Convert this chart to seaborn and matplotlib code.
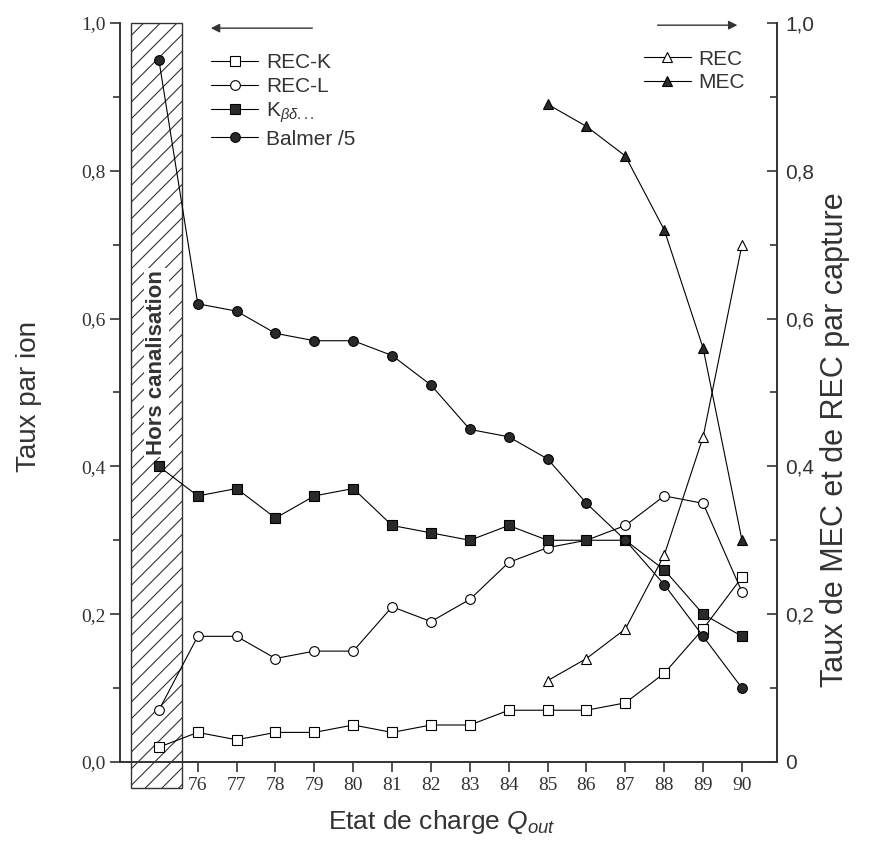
import numpy as np
import pandas as pd
import matplotlib
matplotlib.use("Agg")
import matplotlib.pyplot as plt
import matplotlib.patches as mpatches
from matplotlib.ticker import FixedLocator, MultipleLocator, FuncFormatter
import seaborn as sns

# --- data ---
charge = [75, 76, 77, 78, 79, 80, 81, 82, 83, 84, 85, 86, 87, 88, 89, 90]
rec_k = [0.02, 0.04, 0.03, 0.04, 0.04, 0.05, 0.04, 0.05, 0.05, 0.07, 0.07, 0.07, 0.08, 0.12, 0.18, 0.25]
rec_l = [0.07, 0.17, 0.17, 0.14, 0.15, 0.15, 0.21, 0.19, 0.22, 0.27, 0.29, 0.30, 0.32, 0.36, 0.35, 0.23]
k_bd = [0.40, 0.36, 0.37, 0.33, 0.36, 0.37, 0.32, 0.31, 0.30, 0.32, 0.30, 0.30, 0.30, 0.26, 0.20, 0.17]
balmer5 = [0.95, 0.62, 0.61, 0.58, 0.57, 0.57, 0.55, 0.51, 0.45, 0.44, 0.41, 0.35, 0.30, 0.24, 0.17, 0.10]

charge_cap = [85, 86, 87, 88, 89, 90]
rec = [0.11, 0.14, 0.18, 0.28, 0.44, 0.70]
mec = [0.89, 0.86, 0.82, 0.72, 0.56, 0.30]

x_ticks = list(range(76, 91))

sns.set_style("ticks")
plt.rcParams['font.family'] = ['Liberation Sans', 'DejaVu Sans']
plt.rcParams['mathtext.fontset'] = 'custom'
plt.rcParams['mathtext.rm'] = 'Liberation Sans'
plt.rcParams['mathtext.it'] = 'Liberation Sans:italic'
plt.rcParams['hatch.linewidth'] = 0.8

fig = plt.figure(figsize=(8.74, 8.6), dpi=100)
ax = fig.add_axes([0.1373, 0.1140, 0.7517, 0.8593])
ax2 = ax.twinx()

fill = '#2a2a2a'
grey = '#333333'
common = dict(color='black', linewidth=0.8, markersize=7, markeredgewidth=0.8,
              markeredgecolor='black', clip_on=False)

sns.lineplot(x=charge, y=rec_k, ax=ax, marker='s', markerfacecolor='white', label='REC-K', **common)
sns.lineplot(x=charge, y=rec_l, ax=ax, marker='o', markerfacecolor='white', label='REC-L', **common)
sns.lineplot(x=charge, y=k_bd, ax=ax, marker='s', markerfacecolor=fill, label=r'K$_{\beta\delta...}$', **common)
sns.lineplot(x=charge, y=balmer5, ax=ax, marker='o', markerfacecolor=fill, label='Balmer /5', **common)

sns.lineplot(x=charge_cap, y=rec, ax=ax2, marker='^', markerfacecolor='white', label='REC', **common)
sns.lineplot(x=charge_cap, y=mec, ax=ax2, marker='^', markerfacecolor=fill, label='MEC', **common)

# hatched "hors canalisation" region
box = mpatches.Rectangle((74.28, -0.035), 1.32, 1.035, facecolor='white', edgecolor=grey,
                         hatch='//', linewidth=1.0, clip_on=False, zorder=1)
ax.add_patch(box)
ax.text(74.94, 0.54, 'Hors canalisation', rotation=90, ha='center', va='center',
        fontsize=16, fontweight='bold', color=grey, zorder=3,
        bbox=dict(facecolor='white', edgecolor='none', pad=1.5))

ax.set_xlim(74.0, 90.9)
ax.set_ylim(0, 1.0)
ax2.set_ylim(0, 1.0)

ax.xaxis.set_major_locator(FixedLocator(x_ticks))
ax.yaxis.set_major_locator(MultipleLocator(0.2))
ax.yaxis.set_minor_locator(MultipleLocator(0.1))
ax2.yaxis.set_major_locator(MultipleLocator(0.2))
ax2.yaxis.set_minor_locator(MultipleLocator(0.1))

ax.yaxis.set_major_formatter(FuncFormatter(lambda v, p: f"{v:.1f}".replace('.', ',')))
ax2.yaxis.set_major_formatter(FuncFormatter(lambda v, p: '0' if abs(v) < 1e-9 else f"{v:.1f}".replace('.', ',')))

for s in ['top', 'right']:
    ax.spines[s].set_visible(False)
for s in ['top', 'left', 'bottom']:
    ax2.spines[s].set_visible(False)
for sp in list(ax.spines.values()) + list(ax2.spines.values()):
    sp.set_color(grey)
    sp.set_linewidth(1.4)

ax.tick_params(axis='both', which='major', direction='out', length=7, width=1.2, color=grey)
ax.tick_params(axis='y', which='minor', direction='out', length=5, width=1.2, color=grey)
ax2.tick_params(axis='y', which='major', direction='in', length=7, width=1.2, color=grey,
                labelsize=15, labelcolor=grey, pad=6)
ax2.tick_params(axis='y', which='minor', direction='in', length=5, width=1.2, color=grey)

for lab in ax.get_xticklabels() + ax.get_yticklabels():
    lab.set_family('Liberation Serif')
    lab.set_fontsize(14)
    lab.set_color(grey)

ax.set_xlabel(r'Etat de charge $Q_{out}$', fontsize=19, color=grey)
ax.xaxis.set_label_coords(0.49, -0.062)
ax.set_ylabel('Taux par ion', fontsize=20, color=grey)
ax.yaxis.set_label_coords(-0.119, 0.494)
ax2.set_ylabel('Taux de MEC et de REC par capture', fontsize=22, color=grey)
ax2.yaxis.set_label_coords(1.066, 0.436)

# legends
h1, l1 = ax.get_legend_handles_labels()
ax.legend(h1, l1, loc='upper left', bbox_to_anchor=(0.122, 0.973), frameon=False, fontsize=15,
          handlelength=2.3, handletextpad=0.35, labelspacing=0.22, borderpad=0, labelcolor=grey)
h2, l2 = ax2.get_legend_handles_labels()
ax2.legend(h2, l2, loc='upper left', bbox_to_anchor=(0.781, 0.978), frameon=False, fontsize=15,
           handlelength=2.3, handletextpad=0.35, labelspacing=0.22, borderpad=0, labelcolor=grey)

# direction arrows
arrow = dict(arrowstyle='-|>', color=grey, lw=1.0, mutation_scale=13)
ax.annotate('', xy=(0.134, 0.993), xytext=(0.297, 0.993), xycoords='axes fraction',
            arrowprops=arrow, annotation_clip=False)
ax.annotate('', xy=(0.944, 0.997), xytext=(0.814, 0.997), xycoords='axes fraction',
            arrowprops=arrow, annotation_clip=False)

fig.savefig('out.png', dpi=100)
